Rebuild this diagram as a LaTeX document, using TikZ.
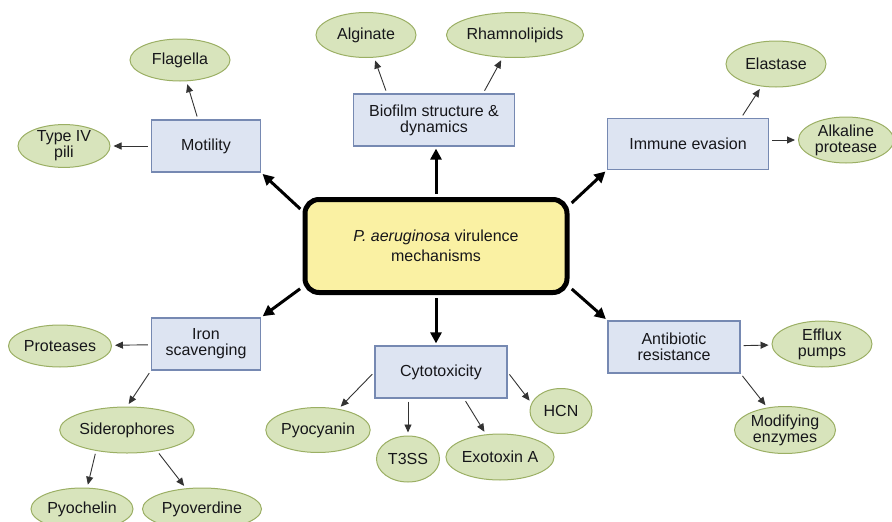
\documentclass[tikz,border=0pt]{standalone}
\usepackage{fontspec}
\setmainfont{Liberation Sans}
\usetikzlibrary{arrows.meta,positioning,shapes.geometric}
\definecolor{ink}{RGB}{22,22,26}
\definecolor{mechfill}{RGB}{221,228,242}
\definecolor{mechline}{RGB}{118,137,178}
\definecolor{leaffill}{RGB}{216,228,188}
\definecolor{leafline}{RGB}{155,175,100}
\definecolor{hubfill}{RGB}{250,241,163}
\tikzset{
  mech/.style={draw=mechline,fill=mechfill,line width=1.2pt,
    align=center,inner sep=0pt,text=ink},
  leaf/.style={ellipse,draw=leafline,fill=leaffill,line width=1pt,
    align=center,inner sep=0pt,text=ink},
  hub/.style={draw=black,fill=hubfill,line width=5pt,rounded corners=14pt,
    align=center,inner sep=0pt,text=ink,
    font=\fontsize{16}{20}\selectfont},
  bigarrow/.style={-{Triangle[length=11pt,width=11pt]},line width=3pt,
    shorten <=3pt,shorten >=2pt},
  thinarrow/.style={-{Triangle[length=8pt,width=7pt]},line width=0.9pt,
    draw=black!80,shorten <=3pt,shorten >=3pt}
}

\begin{document}
\begin{tikzpicture}[x=1pt,y=-1pt,
    every node/.style={font=\fontsize{16}{16}\selectfont}]
    \useasboundingbox (0,0) rectangle (892,522);
    \node[hub,minimum width=262pt,minimum height=93pt] (main) at (436,246)
      {\textit{P. aeruginosa} virulence\\mechanisms};

    \node[mech,minimum width=109pt,minimum height=52pt] (mot) at (206,146) {Motility};
    \node[mech,minimum width=161pt,minimum height=52pt] (bio) at (434,120)
      {Biofilm structure \&\\dynamics};
    \node[mech,minimum width=161pt,minimum height=51pt] (imm) at (688,144) {Immune evasion};
    \node[mech,minimum width=109pt,minimum height=52pt] (iron) at (206,344)
      {Iron\\scavenging};
    \node[mech,minimum width=132pt,minimum height=52pt] (cyto) at (441,372) {Cytotoxicity};
    \node[mech,minimum width=132pt,minimum height=52pt] (anti) at (674,347)
      {Antibiotic\\resistance};

    \node[leaf,minimum width=100pt,minimum height=42pt] (flag) at (180,60) {Flagella};
    \node[leaf,minimum width=92pt,minimum height=42pt] (pili) at (64,146) {Type IV\\pili};
    \node[leaf,minimum width=100pt,minimum height=45pt] (alg) at (366,35) {Alginate};
    \node[leaf,minimum width=134pt,minimum height=45pt] (rham) at (515,35) {Rhamnolipids};
    \node[leaf,minimum width=100pt,minimum height=46pt] (elas) at (776,64) {Elastase};
    \node[leaf,minimum width=95pt,minimum height=46pt] (alk) at (846,140)
      {Alkaline\\protease};
    \node[leaf,minimum width=103pt,minimum height=42pt] (prot) at (60,346) {Proteases};
    \node[leaf,minimum width=131pt,minimum height=46pt] (sid) at (127,430) {Siderophores};
    \node[leaf,minimum width=102pt,minimum height=42pt] (pyoch) at (82,509) {Pyochelin};
    \node[leaf,minimum width=119pt,minimum height=42pt] (pyov) at (202,509) {Pyoverdine};
    \node[leaf,minimum width=102pt,minimum height=45pt] (pyocy) at (318,430) {Pyocyanin};
    \node[leaf,minimum width=63pt,minimum height=46pt] (t3ss) at (408,459) {T3SS};
    \node[leaf,minimum width=93pt,minimum height=46pt] (exo) at (500,457) {Exotoxin A};
    \node[leaf,minimum width=62pt,minimum height=45pt] (hcn) at (561,411) {HCN};
    \node[leaf,minimum width=100pt,minimum height=46pt] (efflux) at (822,344)
      {Efflux\\pumps};
    \node[leaf,minimum width=101pt,minimum height=47pt] (mod) at (785,430)
      {Modifying\\enzymes};

    \draw[bigarrow] ([yshift=-14pt]main.north west) -- (mot.south east);
    \draw[bigarrow] (main.north) -- (main.north |- bio.south);
    \draw[bigarrow] ([yshift=-8pt]main.north east) -- (imm.south west);
    \draw[bigarrow] ([yshift=8pt]main.south west) -- (iron.north east);
    \draw[bigarrow] (main.south) -- (main.south |- cyto.north);
    \draw[bigarrow] ([yshift=8pt]main.south east) -- (anti.north west);

    \draw[thinarrow] (mot) -- (flag);
    \draw[thinarrow] (mot) -- (pili);
    \draw[thinarrow] ([xshift=34pt]bio.north west) -- (alg);
    \draw[thinarrow] ([xshift=-32pt]bio.north east) -- (rham);
    \draw[thinarrow] ([xshift=-28pt]imm.north east) -- (elas);
    \draw[thinarrow] (imm.east |- alk) -- (alk);
    \draw[thinarrow] (iron) -- (prot);
    \draw[thinarrow] (iron.south west) -- (sid.north);
    \draw[thinarrow] (sid.214) -- (pyoch);
    \draw[thinarrow] (sid.-35) -- (pyov);
    \draw[thinarrow] (cyto.west) -- (pyocy);
    \draw[thinarrow] (cyto.south -| t3ss) -- (t3ss);
    \draw[thinarrow] ([xshift=23pt]cyto.south) -- (exo);
    \draw[thinarrow] (cyto.east) -- (hcn.165);
    \draw[thinarrow] (anti) -- (efflux);
    \draw[thinarrow] (anti.south east) -- (mod);
  \end{tikzpicture}
\end{document}
